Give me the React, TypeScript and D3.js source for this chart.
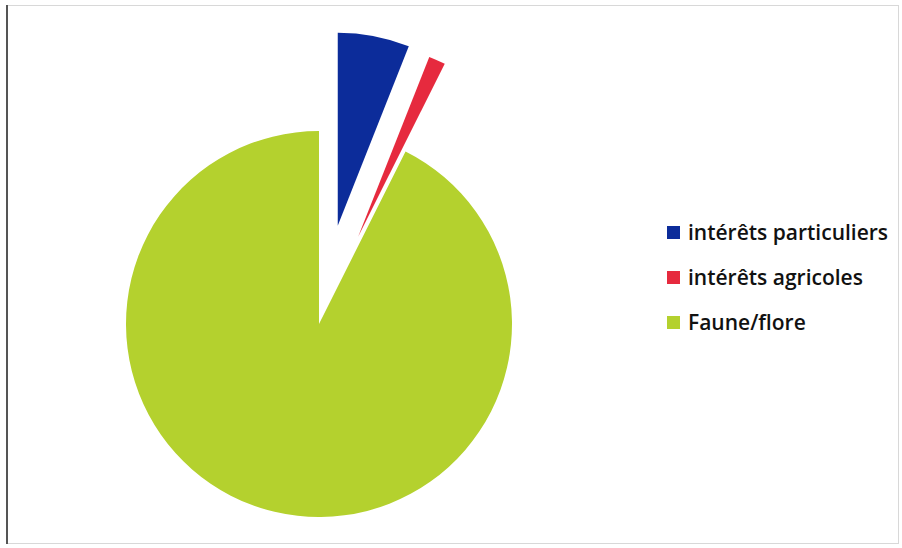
import React from "react";
import * as d3 from "d3";

const categories = ["intérêts particuliers", "intérêts agricoles", "Faune/flore"];
const values = [6.0, 1.4, 92.6];
const explode = [100, 96, 0];
const colors = ["#0c2c9a", "#e62a3e", "#b4d12e"];

export default function App() {
  const W = 902, H = 548;
  const cx = 319, cy = 324, r = 193;
  const pie = d3.pie<number>().sort(null).value((d) => d)(values);
  const arc = d3.arc<d3.PieArcDatum<number>>().innerRadius(0).outerRadius(r);
  return (
    <svg width={W} height={H} style={{ position: "absolute", left: 0, top: 0 }}>
      <rect x={0} y={0} width={W} height={H} fill="#fff" />
      <rect x={6.5} y={5.5} width={892} height={538} fill="none" stroke="#d8d8d8" strokeWidth={1} />
      <line x1={7} y1={5} x2={7} y2={544} stroke="#555" strokeWidth={2} />
      <g transform={`translate(${cx},${cy})`}>
        {pie.map((p, i) => {
          const mid = (p.startAngle + p.endAngle) / 2;
          const dx = Math.sin(mid) * explode[i];
          const dy = -Math.cos(mid) * explode[i];
          return (
            <path key={i} d={arc(p) || ""} fill={colors[i]} transform={`translate(${dx},${dy})`} />
          );
        })}
      </g>
      <g fontFamily="'Open Sans', sans-serif" fontWeight={600} fontSize={21} fill="#111">
        {categories.map((c, i) => (
          <g key={c} transform={`translate(667,${226 + i * 45})`}>
            <rect x={0} y={0} width={13} height={13} fill={colors[i]} />
            <text x={21} y={14}>{c}</text>
          </g>
        ))}
      </g>
    </svg>
  );
}
